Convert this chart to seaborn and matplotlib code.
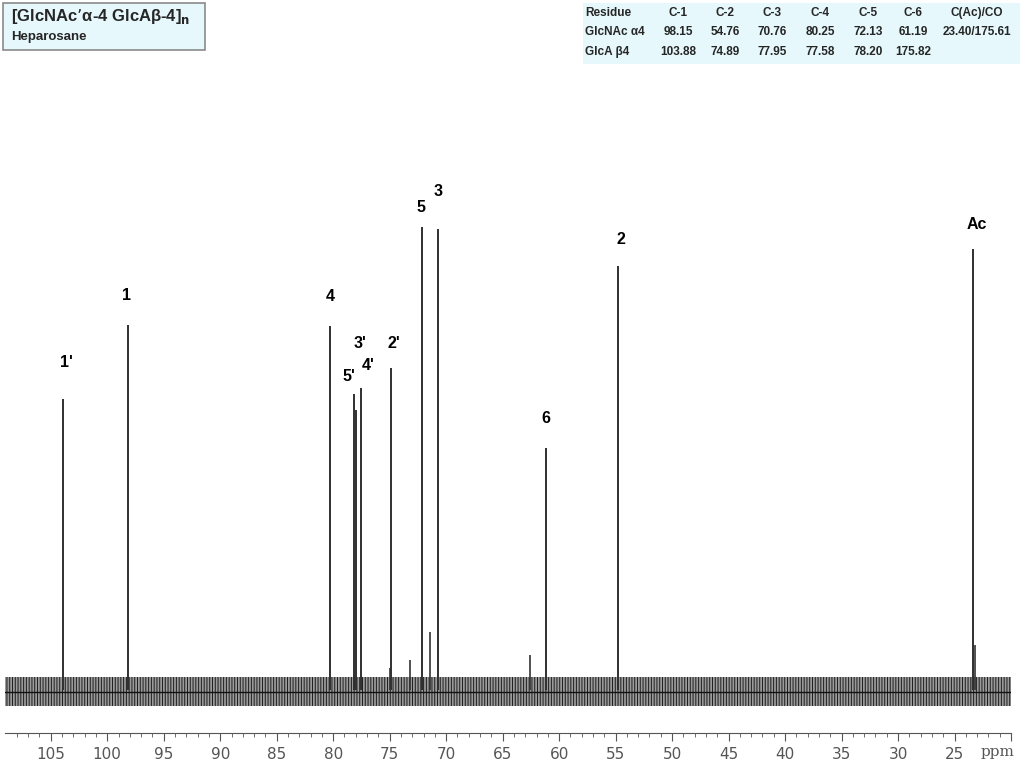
import numpy as np
import seaborn as sns
import matplotlib.pyplot as plt
from matplotlib.patches import Rectangle

# 13C NMR peaks (ppm), heights in arbitrary units above baseline
peak_labels = ["1'", "1", "4", "5'", "3'", "4'", "2'", "5", "3", "6", "2", "Ac"]
peak_ppm = [103.88, 98.15, 80.25, 78.20, 77.95, 77.58, 74.89, 72.13, 70.76, 61.19, 54.76, 23.40]
peak_height = [291, 365, 364, 296, 280, 302, 322, 463, 461, 242, 424, 441]
# label anchor (ppm, height) for each peak label
label_ppm = [103.6, 98.3, 80.25, 78.6, 77.6, 76.9, 74.6, 72.2, 70.7, 61.2, 54.5, 23.0]
label_height = [320, 387, 386, 306, 339, 317, 339, 475, 491, 264, 443, 458]

# minor signals / shoulders
minor_ppm = [71.43, 73.2, 62.6, 23.2, 75.0]
minor_height = [58, 30, 35, 45, 22]

noise_lo, noise_hi = -16, 13

# table of chemical shifts
tbl_cols = ["Residue", "C-1", "C-2", "C-3", "C-4", "C-5", "C-6", "C(Ac)/CO"]
tbl_glcnac = ["GlcNAc α4", "98.15", "54.76", "70.76", "80.25", "72.13", "61.19", "23.40/175.61"]
tbl_glca = ["GlcA β4", "103.88", "74.89", "77.95", "77.58", "78.20", "175.82", ""]

major_ticks = [105, 100, 95, 90, 85, 80, 75, 70, 65, 60, 55, 50, 45, 40, 35, 30, 25, 20]
major_labels = ["105", "100", "95", "90", "85", "80", "75", "70", "65", "60", "55",
                "50", "45", "40", "35", "30", "25", ""]

sns.set_theme(style="white")
plt.rcParams['font.family'] = ['Liberation Sans', 'DejaVu Sans']
plt.rcParams['hatch.linewidth'] = 0.7

fig = plt.figure(figsize=(10.24, 7.68), dpi=100)
ax = fig.add_axes([5 / 1024, 35 / 768, 1006 / 1024, 583 / 768])

# baseline noise band
ax.fill_between([109.05, 20.0], [noise_lo, noise_lo], [noise_hi, noise_hi],
                facecolor="#9a9a9a", edgecolor="#1e1e1e", hatch="||||||", linewidth=0)
ax.plot([109.05, 20.0], [-2, -2], color="#111111", lw=1.0)

ax.vlines(minor_ppm, 0, minor_height, color="#333333", lw=1.2)
ax.vlines(peak_ppm, 0, peak_height, color="#303030", lw=1.4)

for lab, xp, yp in zip(peak_labels, label_ppm, label_height):
    ax.text(xp, yp, lab, ha="center", va="bottom", fontsize=11.5, fontweight="bold", color="black")

ax.set_xlim(109.05, 20.0)
ax.set_ylim(-43, 540)
ax.set_xticks(major_ticks)
ax.set_xticklabels(major_labels, fontsize=11, color="#555555", family="DejaVu Sans")
ax.set_xticks(np.arange(21, 109, 1), minor=True)
ax.tick_params(axis="x", which="major", direction="out", length=6, width=0.8, color="#555555",
               bottom=True, pad=4)
ax.tick_params(axis="x", which="minor", direction="out", length=3, width=0.6, color="#555555",
               bottom=True)
ax.text(21.2, -0.033, "ppm", transform=ax.get_xaxis_transform(), ha="center", va="center",
        fontsize=11, color="#555555", family="DejaVu Serif")
ax.set_yticks([])
sns.despine(ax=ax, left=True, top=True, right=True)
ax.spines["bottom"].set_color("#555555")
ax.spines["bottom"].set_linewidth(0.8)

# title box
fig.patches.append(Rectangle((3 / 1024, 1 - 50 / 768), 202 / 1024, 47 / 768,
                             transform=fig.transFigure, facecolor="#e6f8fc",
                             edgecolor="#8a8a8a", lw=1.2))
fig.text(11 / 1024, 1 - 17 / 768, "[GlcNAc’α-4 GlcAβ-4]$_\\mathbf{n}$", fontsize=12,
         fontweight="bold", va="center", ha="left")
fig.text(11 / 1024, 1 - 37 / 768, "Heparosane", fontsize=9.5, fontweight="bold",
         va="center", ha="left")

# shift table
fig.patches.append(Rectangle((583 / 1024, 1 - 64 / 768), 437 / 1024, 61 / 768,
                             transform=fig.transFigure, facecolor="#e6f8fc",
                             edgecolor="none"))
col_x = [585, 678, 725, 772, 820, 868, 913, 977]
row_y = [13, 32, 52]
for r, row in enumerate([tbl_cols, tbl_glcnac, tbl_glca]):
    for c, txt in enumerate(row):
        ha = "left" if c == 0 else "center"
        fig.text(col_x[c] / 1024, 1 - row_y[r] / 768, txt, fontsize=8.5, fontweight="bold",
                 ha=ha, va="center")

fig.savefig("out.png", dpi=100)
